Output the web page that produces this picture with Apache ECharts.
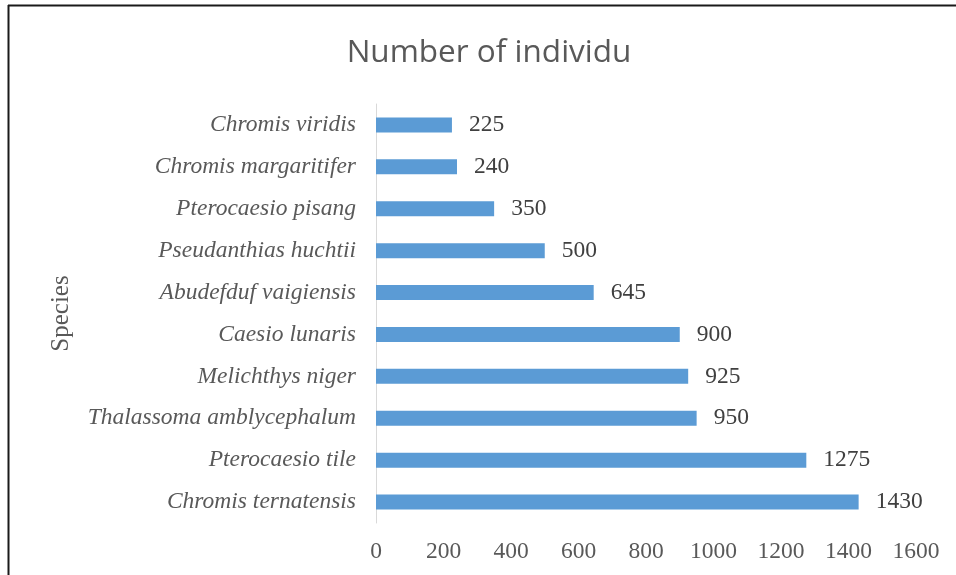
<!DOCTYPE html>
<html>
<head>
<meta charset="utf-8">
<script src="https://cdn.jsdelivr.net/npm/echarts@6/dist/echarts.min.js"></script>
<style>
html,body{margin:0;padding:0;background:#fff;}
#chart{width:956px;height:575px;}
</style>
</head>
<body>
<div id="chart"></div>
<script>
// Categories listed from bottom to top (ECharts category axis order)
const species = [
  "Chromis ternatensis",
  "Pterocaesio tile",
  "Thalassoma amblycephalum",
  "Melichthys niger",
  "Caesio lunaris",
  "Abudefduf vaigiensis",
  "Pseudanthias huchtii",
  "Pterocaesio pisang",
  "Chromis margaritifer",
  "Chromis viridis"
];
const individuals = [1430, 1275, 950, 925, 900, 645, 500, 350, 240, 225];
const xTicks = [0, 200, 400, 600, 800, 1000, 1200, 1400, 1600];

const chart = echarts.init(document.getElementById('chart'), null, {renderer: 'canvas'});
const serif = 'Liberation Serif';
chart.setOption({
  animation: false,
  backgroundColor: '#ffffff',
  title: {
    text: 'Number of individu',
    left: 484,
    top: 32,
    textAlign: 'center',
    textStyle: {fontFamily: 'Open Sans', fontSize: 31.5, fontWeight: 'normal', color: '#595959'}
  },
  grid: {left: 376, right: 40, top: 104, bottom: 52, containLabel: false},
  xAxis: {
    type: 'value',
    min: xTicks[0],
    max: xTicks[xTicks.length - 1],
    interval: 200,
    axisLine: {show: false},
    axisTick: {show: false},
    splitLine: {show: false},
    axisLabel: {fontFamily: serif, fontSize: 23.5, color: '#595959', margin: 17, formatter: v => String(v)}
  },
  yAxis: {
    type: 'category',
    data: species,
    name: 'Species',
    nameLocation: 'middle',
    nameGap: 302,
    nameRotate: 90,
    nameTextStyle: {fontFamily: serif, fontSize: 25, color: '#595959'},
    axisLine: {show: true, lineStyle: {color: '#d9d9d9', width: 1}},
    axisTick: {show: false},
    axisLabel: {fontFamily: serif, fontStyle: 'italic', fontSize: 23.5, color: '#595959', margin: 20}
  },
  series: [{
    type: 'bar',
    data: individuals,
    barWidth: 15,
    itemStyle: {color: '#5b9bd5'},
    label: {show: true, position: 'right', distance: 17, fontFamily: serif, fontSize: 23.5, color: '#404040', formatter: p => String(p.value)}
  }],
  graphic: [
    {type: 'line', shape: {x1: 8, y1: 5.5, x2: 956, y2: 5.5}, style: {stroke: '#1a1a1a', lineWidth: 2}},
    {type: 'line', shape: {x1: 8.5, y1: 5, x2: 8.5, y2: 575}, style: {stroke: '#1a1a1a', lineWidth: 2}}
  ]
});
</script>
</body>
</html>
